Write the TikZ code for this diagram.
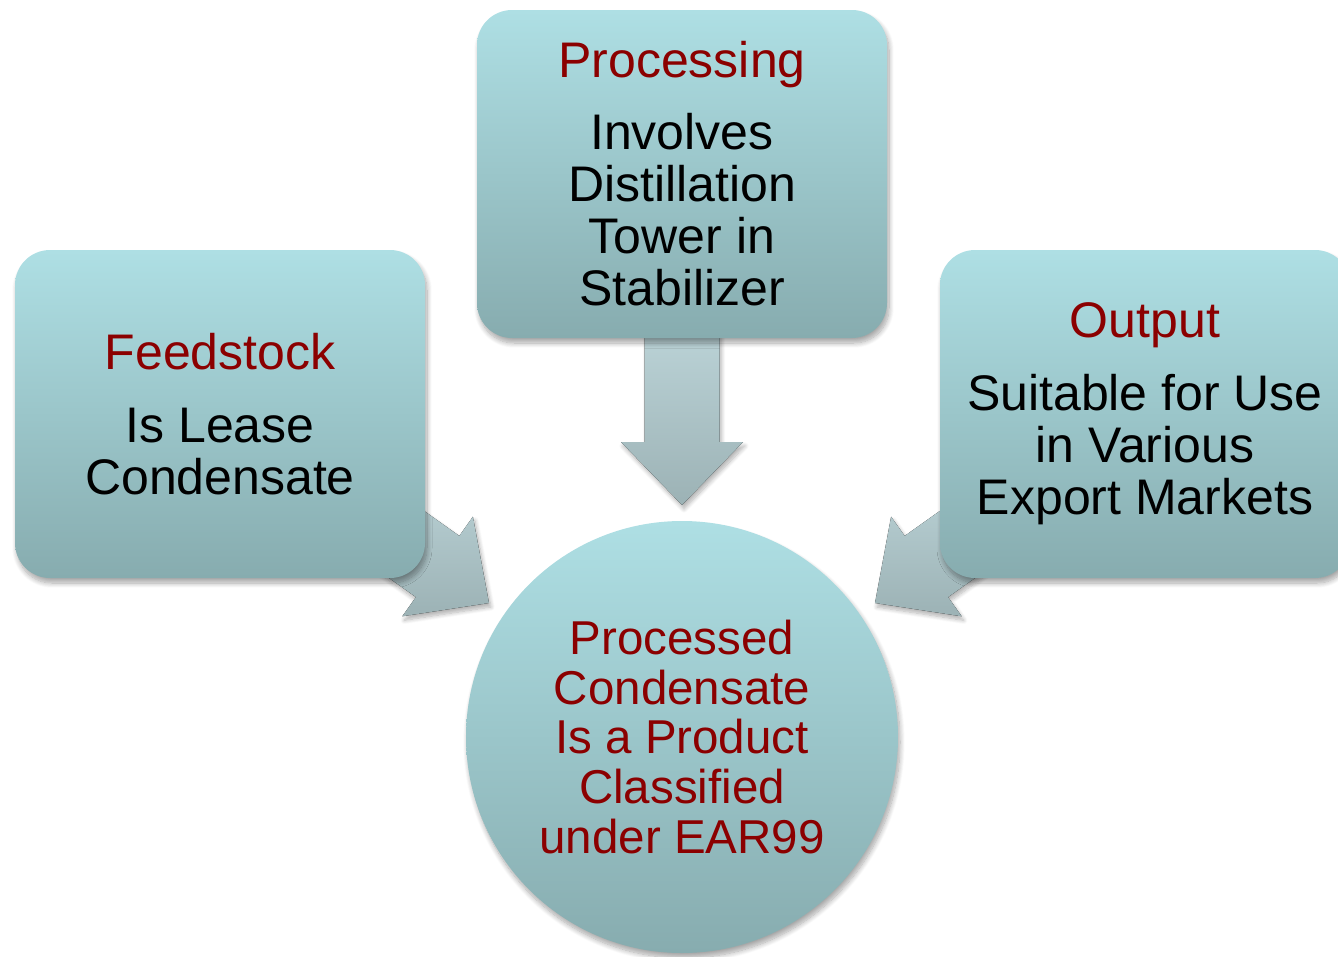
\documentclass[tikz,border=0pt]{standalone}
\usepackage{fontspec}
\setmainfont{Liberation Sans}
\usetikzlibrary{shadows.blur}

\definecolor{boxtop}{HTML}{AEDFE4}
\definecolor{boxbot}{HTML}{87ACAF}
\definecolor{arrtop}{HTML}{BED6DA}
\definecolor{arrbot}{HTML}{9CB2B5}
\definecolor{titlered}{HTML}{8B0000}

\tikzset{
  softshadow/.style={blur shadow={shadow xshift=2pt, shadow yshift=-5pt,
      shadow blur radius=5pt, shadow blur steps=10, shadow opacity=35}},
  stagebox/.style={rectangle, rounded corners=35pt, draw=none,
      top color=boxtop, bottom color=boxbot,
      minimum width=410pt, minimum height=328pt, inner sep=0pt,
      align=center, font=\fontsize{50}{52}\selectfont, softshadow},
  hubcircle/.style={circle, draw=none, top color=boxtop, bottom color=boxbot,
      minimum size=432pt, inner sep=0pt, align=center,
      font=\fontsize{47.5}{49.7}\selectfont, softshadow},
  blockarrow/.style={draw=none, top color=arrtop, bottom color=arrbot,
      blur shadow={shadow xshift=2pt, shadow yshift=-4pt,
      shadow blur radius=4pt, shadow blur steps=8, shadow opacity=30}},
  headline/.style={text=titlered}
}

\begin{document}
\begin{tikzpicture}[x=1pt, y=-1pt]
\useasboundingbox (0,0) rectangle (1338,956);

% block arrows, drawn first so the boxes cover their tails
\fill[blockarrow] (644.5,312) -- (719.5,312) -- (719.5,442) -- (743,442)
  -- (682,505) -- (621,442) -- (644.5,442) -- cycle;
\fill[blockarrow] (353.3,460.6) -- (459.3,535.9) -- (472.9,516.7)
  -- (489,603) -- (402.3,616.3) -- (415.9,597.1) -- (309.9,521.8) -- cycle;
\fill[blockarrow] (1010.7,460.6) -- (904.7,535.9) -- (891.1,516.7)
  -- (875,603) -- (961.7,616.3) -- (948.1,597.1) -- (1054.1,521.8) -- cycle;

% stage boxes
\node[stagebox] (feed) at (220,414)
  {\textcolor{titlered}{Feedstock}\\[21pt]Is Lease\\Condensate};
\node[stagebox] (proc) at (682,174)
  {\textcolor{titlered}{Processing}\\[20pt]Involves\\Distillation\\Tower in\\Stabilizer};
\node[stagebox] (out) at (1145,414)
  {\textcolor{titlered}{Output}\\[21pt]Suitable for Use\\in Various\\Export Markets};

% central result
\node[hubcircle, text=titlered] (hub) at (682,737)
  {Processed\\Condensate\\Is a Product\\Classified\\under EAR99};
\end{tikzpicture}
\end{document}
